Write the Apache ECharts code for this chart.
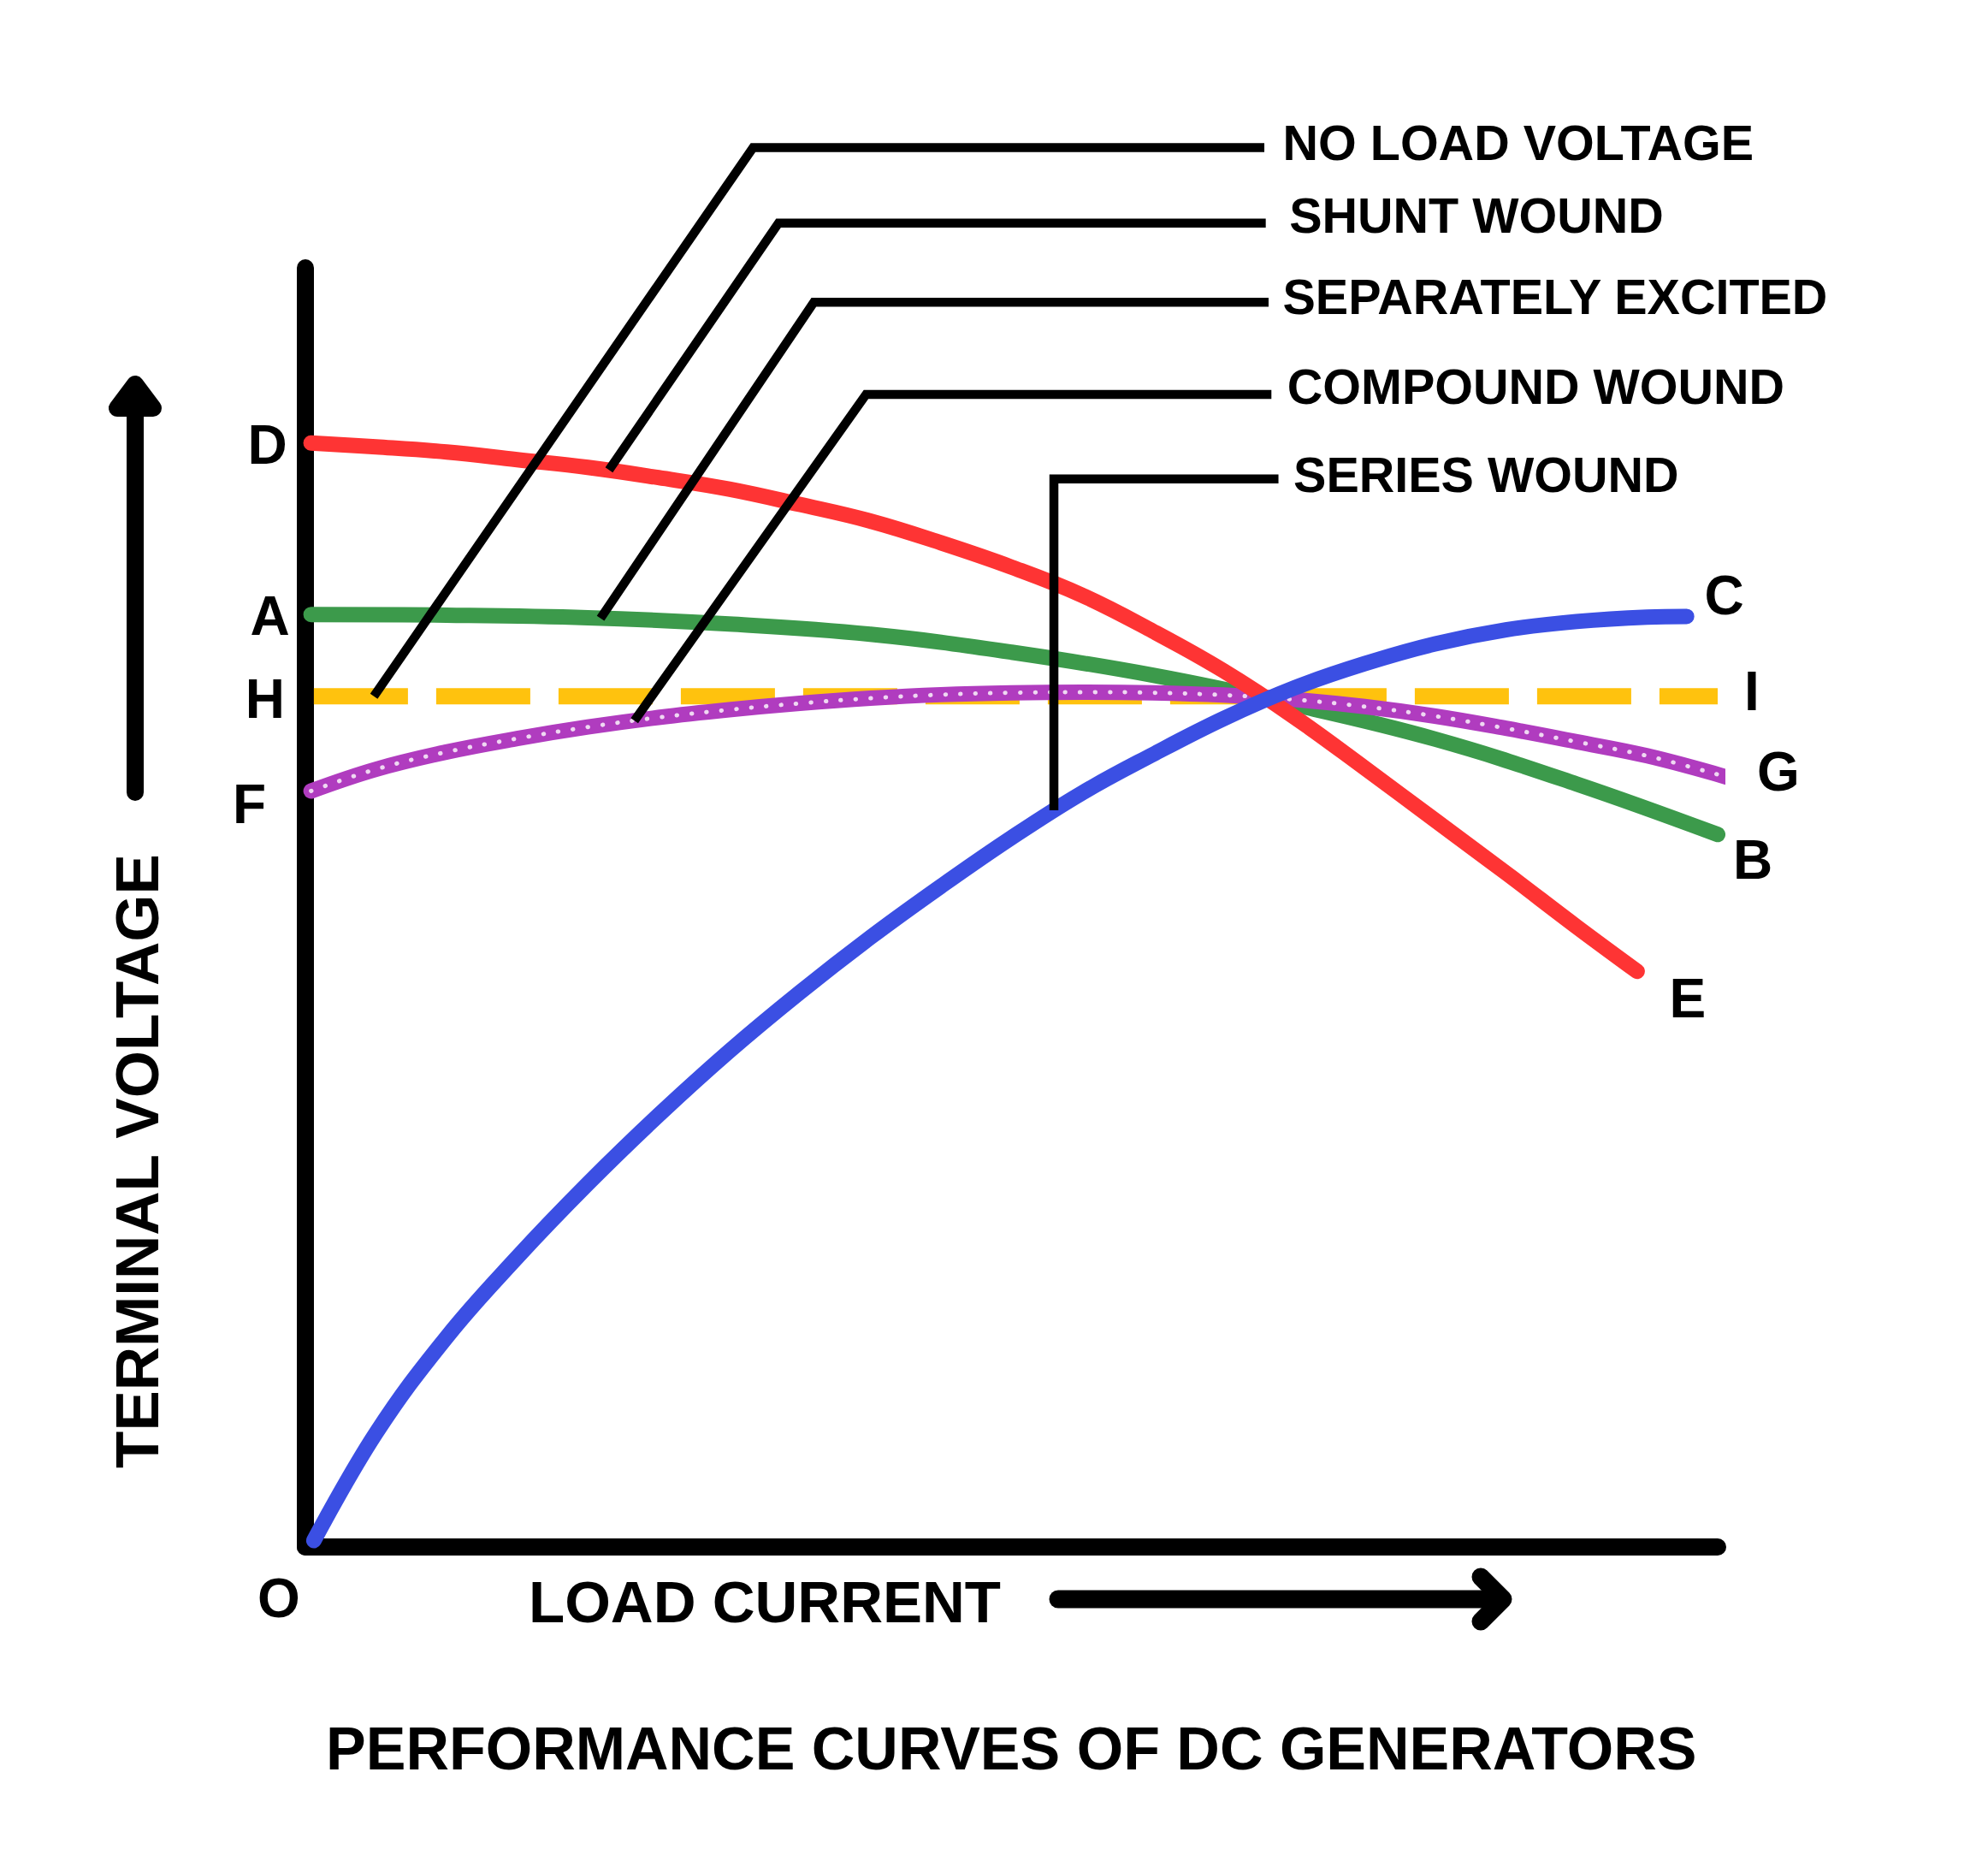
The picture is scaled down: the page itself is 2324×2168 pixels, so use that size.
<!DOCTYPE html>
<html>
<head>
<meta charset="utf-8">
<script src="https://cdn.jsdelivr.net/npm/echarts@6/dist/echarts.min.js"></script>
<style>
html,body{margin:0;padding:0;background:#ffffff;}
#chart{width:2324px;height:2168px;}
</style>
</head>
<body>
<div id="chart"></div>
<script>
// ---------------- DATA (x: load current, y: terminal voltage, arbitrary units 0-100) ----------------
const seriesNames = ['NO LOAD VOLTAGE', 'SHUNT WOUND', 'SEPARATELY EXCITED', 'COMPOUND WOUND', 'SERIES WOUND'];

const noLoadVoltage = [[0.6, 66.5], [100, 66.5]];

const shuntWound = [
  [0.4, 86.3], [5, 86.0], [10, 85.6], [15, 85.0], [20, 84.4], [25, 83.6], [30, 82.7],
  [35, 81.5], [40, 80.2], [45, 78.5], [50, 76.6], [55, 74.4], [60, 71.6], [65, 68.5],
  [70, 64.9], [75, 60.9], [80, 56.8], [85, 52.7], [90, 48.5], [94.3, 45.0]
];

const separatelyExcited = [
  [0.4, 72.9], [10, 72.85], [20, 72.65], [30, 72.15], [40, 71.35], [50, 69.95],
  [60, 68.15], [70, 65.85], [80, 63.15], [90, 59.65], [100, 55.7]
];

const compoundWound = [
  [0.4, 59.1], [5, 60.8], [10, 62.15], [15, 63.2], [20, 64.1], [25, 64.85], [30, 65.45],
  [35, 65.95], [40, 66.35], [45, 66.63], [50, 66.78], [55, 66.83], [60, 66.78], [65, 66.6],
  [70, 66.25], [75, 65.7], [80, 64.95], [85, 64.0], [90, 62.95], [95, 61.85], [100.6, 60.2]
];

const seriesWound = [
  [0.6, 0.5], [5, 8.9], [10, 16.4], [15, 22.65], [20, 28.4], [25, 33.75], [30, 38.75],
  [35, 43.35], [40, 47.65], [45, 51.65], [50, 55.45], [55, 58.95], [60, 61.95], [65, 64.75],
  [70, 67.15], [75, 69.05], [80, 70.6], [85, 71.7], [90, 72.35], [95, 72.7], [97.8, 72.75]
];

// leader (callout) lines: point on curve -> elbow -> end of label line
const leaderNoLoad      = [[4.85, 66.5], [31.7, 109.4], [67.9, 109.4]];
const leaderShunt       = [[21.5, 84.2], [33.5, 103.5], [68.0, 103.5]];
const leaderSeparately  = [[20.9, 72.6], [36.0, 97.3], [68.2, 97.3]];
const leaderCompound    = [[23.3, 64.6], [39.7, 90.1], [68.4, 90.1]];
const leaderSeries      = [[53.0, 57.6], [53.0, 83.5], [68.9, 83.5]];

const startLetters = ['H', 'D', 'A', 'F', 'O'];
const endLetters   = ['I', 'E', 'B', 'G', 'C'];
const axisNames = ['LOAD CURRENT', 'TERMINAL VOLTAGE'];
const titleText = 'PERFORMANCE CURVES OF DC GENERATORS';

// ---------------- STYLE ----------------
const FONT = '"Liberation Sans", Arial, Helvetica, sans-serif';
const curveColors = ['#ffc20e', '#fe3434', '#3c9a4b', '#b03cbf', '#3b4fe3'];
const letterOffsets = {
  D: [-51, 2], A: [-48, 2], H: [-57, 3], F: [-72, 16], O: [-41, 67],
  E: [59, 32], B: [41, 30], G: [61, -6], C: [44, -24], I: [40, -6]
};
const leaderLabelStyle = [
  { distance: 21, offset: [0, -5] },
  { distance: 27, offset: [0, -9] },
  { distance: 16, offset: [0, -6] },
  { distance: 18, offset: [0, -9] },
  { distance: 17, offset: [0, -5] }
];

const curves = [noLoadVoltage, shuntWound, separatelyExcited, compoundWound, seriesWound];
const leaders = [leaderNoLoad, leaderShunt, leaderSeparately, leaderCompound, leaderSeries];

// draw order bottom -> top: no load, separately, compound, shunt, series
const drawOrder = [0, 2, 3, 1, 4];

const series = [];
drawOrder.forEach(function (i) {
  const isNoLoad = i === 0;
  series.push({
    name: seriesNames[i],
    type: 'line',
    data: curves[i],
    smooth: isNoLoad ? false : 0.4,
    showSymbol: false,
    symbol: 'none',
    clip: false,
    silent: true,
    lineStyle: {
      color: curveColors[i],
      width: isNoLoad ? 19 : 18,
      type: isNoLoad ? [110, 33] : 'solid',
      cap: isNoLoad ? 'butt' : 'round',
      join: 'round'
    },
    z: 2
  });
  if (i === 3) {
    // beaded look: small white dots inside the compound wound line
    series.push({
      name: seriesNames[i] + ' texture',
      type: 'line',
      data: curves[i],
      smooth: 0.4,
      showSymbol: false,
      symbol: 'none',
      clip: false,
      silent: true,
      lineStyle: { color: '#ffffff', width: 5, type: [0.5, 17], cap: 'round', opacity: 0.8 },
      z: 2
    });
  }
});

leaders.forEach(function (ld, i) {
  series.push({
    name: 'leader ' + seriesNames[i],
    type: 'line',
    data: ld,
    smooth: false,
    showSymbol: false,
    symbol: 'none',
    clip: false,
    silent: true,
    lineStyle: { color: '#000', width: 10.5, cap: 'butt', join: 'miter' },
    z: 3
  });
});

// text labels attached to data points
const letterData = [];
curves.forEach(function (c, i) {
  [[startLetters[i], c[0]], [endLetters[i], c[c.length - 1]]].forEach(function (p) {
    letterData.push({
      name: p[0],
      value: p[1],
      label: { offset: letterOffsets[p[0]] }
    });
  });
});

const hiddenPoint = { color: 'rgba(0,0,0,0)', opacity: 1 };

series.push({
  name: 'curve letters',
  type: 'scatter',
  data: letterData,
  symbol: 'circle',
  symbolSize: 1,
  clip: false,
  silent: true,
  itemStyle: hiddenPoint,
  label: {
    show: true,
    position: 'inside',
    formatter: '{b}',
    color: '#000000',
    opacity: 1,
    fontFamily: FONT,
    fontWeight: 'bold',
    fontSize: 64,
    align: 'center',
    verticalAlign: 'middle'
  },
  z: 5
});

series.push({
  name: 'leader names',
  type: 'scatter',
  data: leaders.map(function (ld, i) {
    return {
      name: seriesNames[i],
      value: ld[ld.length - 1],
      label: { distance: leaderLabelStyle[i].distance, offset: leaderLabelStyle[i].offset }
    };
  }),
  symbol: 'circle',
  symbolSize: 1,
  clip: false,
  silent: true,
  itemStyle: hiddenPoint,
  label: {
    show: true,
    position: 'right',
    formatter: '{b}',
    color: '#000000',
    opacity: 1,
    fontFamily: FONT,
    fontWeight: 'bold',
    fontSize: 57.5
  },
  z: 5
});

const axisCommon = {
  type: 'value',
  min: 0,
  max: 100,
  axisLine: { show: true, onZero: false, lineStyle: { color: '#000', width: 20, cap: 'round' } },
  axisTick: { show: false },
  axisLabel: { show: false },
  splitLine: { show: false }
};

const option = {
  backgroundColor: '#ffffff',
  animation: false,
  title: {
    text: titleText,
    left: 381,
    top: 2009,
    padding: 0,
    textStyle: { fontFamily: FONT, fontWeight: 'bold', fontSize: 70, lineHeight: 70, color: '#000' }
  },
  grid: { left: 357, right: 316, top: 313, bottom: 360, containLabel: false },
  xAxis: Object.assign({}, axisCommon),
  yAxis: Object.assign({}, axisCommon),
  series: series,
  graphic: [
    // vertical arrow
    { type: 'line', shape: { x1: 158, y1: 926, x2: 158, y2: 470 },
      style: { stroke: '#000', lineWidth: 20, lineCap: 'round' }, silent: true },
    { type: 'polygon', shape: { points: [[158, 449], [137, 477], [179, 477]] },
      style: { fill: '#000', stroke: '#000', lineWidth: 20, lineJoin: 'round' }, silent: true },
    // horizontal arrow
    { type: 'line', shape: { x1: 1237, y1: 1869, x2: 1752, y2: 1869 },
      style: { stroke: '#000', lineWidth: 21, lineCap: 'round' }, silent: true },
    { type: 'polyline', shape: { points: [[1731, 1843], [1757, 1869], [1731, 1895]] },
      style: { stroke: '#000', lineWidth: 21, lineCap: 'round', lineJoin: 'round', fill: null }, silent: true },
    // axis names
    { type: 'text', x: 160, y: 1357, rotation: Math.PI / 2, silent: true,
      style: { text: axisNames[1], fontFamily: FONT, fontWeight: 'bold', fontSize: 71,
               fill: '#000', align: 'center', verticalAlign: 'middle' } },
    { type: 'text', x: 894, y: 1872, silent: true,
      style: { text: axisNames[0], fontFamily: FONT, fontWeight: 'bold', fontSize: 69,
               fill: '#000', align: 'center', verticalAlign: 'middle' } }
  ]
};

const chart = echarts.init(document.getElementById('chart'), null, { renderer: 'svg', width: 2324, height: 2168 });
chart.setOption(option);
</script>
</body>
</html>
